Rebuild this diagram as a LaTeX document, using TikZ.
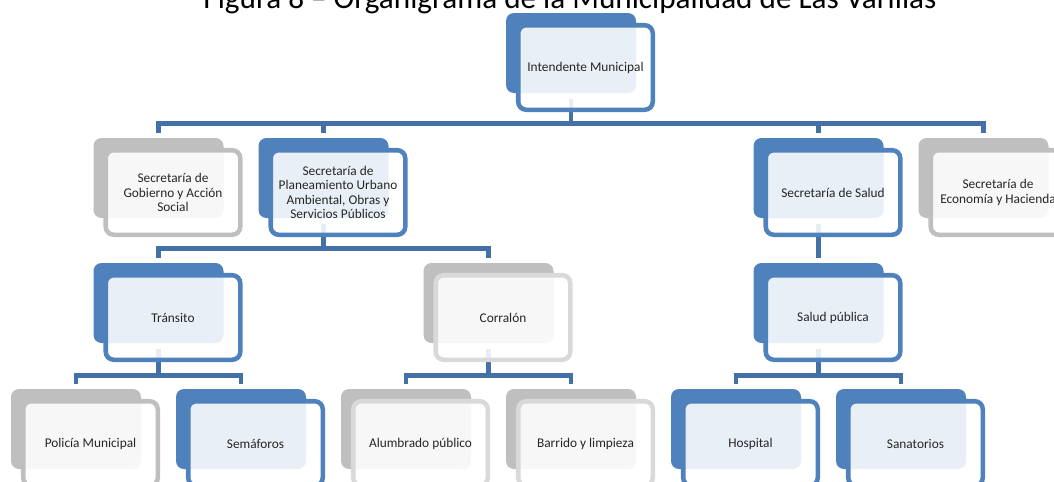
\documentclass[tikz,border=0pt]{standalone}
\usepackage{fontspec}
\setmainfont{Carlito}
\usepackage{tikz}
\definecolor{orgblue}{HTML}{4F81BD}
\definecolor{orggray}{HTML}{BFBFBF}
\definecolor{orglight}{HTML}{D9D9D9}
\definecolor{orgline}{HTML}{4470A8}

\begin{document}
\begin{tikzpicture}[x=0.75pt,y=-0.75pt,
  back/.style={rectangle,rounded corners=6pt,fill=#1,minimum width=97.5pt,minimum height=60pt,inner sep=0pt},
  front/.style={rectangle,rounded corners=6pt,draw=#1,line width=3.4pt,fill=white,fill opacity=0.88,text opacity=1,
    minimum width=100.9pt,minimum height=63.4pt,inner sep=0pt,xshift=10.875pt,yshift=-10.875pt,
    align=center,text=black!85,font=\fontsize{10}{10.9}\selectfont},
  conn/.style={draw=orgline,line width=3.6pt,shorten <=4.5pt,shorten >=3.75pt}]

\useasboundingbox (0,0) rectangle (1054,482);
\clip (0,0) rectangle (1054,482);

\node[anchor=base,font=\fontsize{23.4}{28}\selectfont] (title) at (570,8.5) {Figura 8 – Organigrama de la Municipalidad de Las Varillas};

% back boxes
\node[back=orgblue] (intB) at (571,53) {};
\node[back=orggray] (gobB) at (158.5,178) {};
\node[back=orgblue] (plaB) at (323.5,178) {};
\node[back=orgblue] (salB) at (818.5,178) {};
\node[back=orggray] (ecoB) at (983.5,178) {};
\node[back=orgblue] (traB) at (158.5,303) {};
\node[back=orggray] (corB) at (488.5,303) {};
\node[back=orgblue] (spuB) at (818.5,303) {};
\node[back=orggray] (polB) at (76,429) {};
\node[back=orgblue] (semB) at (241,429) {};
\node[back=orggray] (aluB) at (406,429) {};
\node[back=orggray] (barB) at (571,429) {};
\node[back=orgblue] (hosB) at (736,429) {};
\node[back=orgblue] (sanB) at (901,429) {};

% connectors
\draw[conn] (intB.south) -- ++(0,30.5) -| (gobB.north);
\draw[conn] (intB.south) -- ++(0,30.5) -| (plaB.north);
\draw[conn] (intB.south) -- ++(0,30.5) -| (salB.north);
\draw[conn] (intB.south) -- ++(0,30.5) -| (ecoB.north);
\draw[conn] (plaB.south) -- ++(0,30.5) -| (traB.north);
\draw[conn] (plaB.south) -- ++(0,30.5) -| (corB.north);
\draw[conn] (salB.south) -- (spuB.north);
\draw[conn] (traB.south) -- ++(0,32) -| (polB.north);
\draw[conn] (traB.south) -- ++(0,32) -| (semB.north);
\draw[conn] (corB.south) -- ++(0,32) -| (aluB.north);
\draw[conn] (corB.south) -- ++(0,32) -| (barB.north);
\draw[conn] (spuB.south) -- ++(0,32) -| (hosB.north);
\draw[conn] (spuB.south) -- ++(0,32) -| (sanB.north);

% front boxes
\node[front=orgblue] (intF) at (intB) {Intendente Municipal};
\node[front=orggray] (gobF) at (gobB) {Secretaría de\\Gobierno y Acción\\Social};
\node[front=orgblue] (plaF) at (plaB) {Secretaría de\\Planeamiento Urbano\\Ambiental, Obras y\\Servicios Públicos};
\node[front=orgblue] (salF) at (salB) {Secretaría de Salud};
\node[front=orggray] (ecoF) at (ecoB) {Secretaría de\\Economía y Hacienda};
\node[front=orgblue] (traF) at (traB) {Tránsito};
\node[front=orglight] (corF) at (corB) {Corralón};
\node[front=orgblue] (spuF) at (spuB) {Salud pública};
\node[front=orggray] (polF) at (polB) {Policía Municipal};
\node[front=orgblue] (semF) at (semB) {Semáforos};
\node[front=orglight] (aluF) at (aluB) {Alumbrado público};
\node[front=orglight] (barF) at (barB) {Barrido y limpieza};
\node[front=orgblue] (hosF) at (hosB) {Hospital};
\node[front=orgblue] (sanF) at (sanB) {Sanatorios};
\end{tikzpicture}
\end{document}
